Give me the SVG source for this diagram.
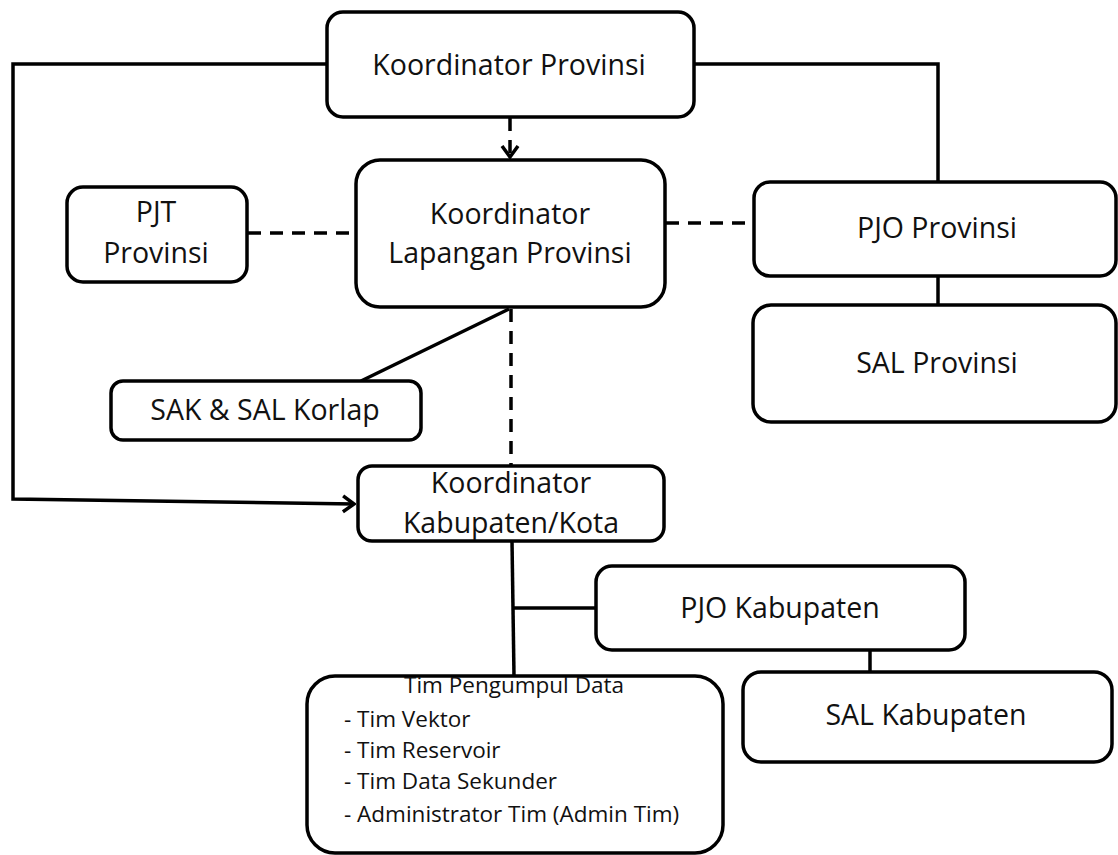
<svg xmlns="http://www.w3.org/2000/svg" width="1118" height="855" viewBox="0 0 1118 855">
<defs>
<style>
.box{fill:#fff;stroke:#000;stroke-width:3.5}
.ln{fill:none;stroke:#000;stroke-width:3.5}
.dash{fill:none;stroke:#000;stroke-width:3.5;stroke-dasharray:13 9}
text{font-family:"Open Sans","Noto Sans",sans-serif;fill:#111;text-anchor:middle}
.t{font-size:28.5px}
.s{font-size:22.5px}
.l{text-anchor:start}
</style>
<marker id="arr" viewBox="0 0 14 20" refX="12" refY="10" markerWidth="14" markerHeight="20" markerUnits="userSpaceOnUse" orient="auto">
<path d="M1,2 L12,10 L1,18" fill="none" stroke="#000" stroke-width="3.5"/>
</marker>
</defs>
<rect width="1118" height="855" fill="#fff"/>
<g id="connectors">
<polyline class="ln" points="327,64 13,64 13,499 354,504" marker-end="url(#arr)"/>
<polyline class="ln" points="694,64 938,64 938,182"/>
<line class="dash" x1="510" y1="118" x2="510" y2="157" marker-end="url(#arr)"/>
<line class="dash" x1="248" y1="233" x2="356" y2="233"/>
<line class="dash" x1="666" y1="223" x2="754" y2="223"/>
<line class="ln" x1="938" y1="276" x2="938" y2="305"/>
<line class="ln" x1="509" y1="309" x2="361" y2="381"/>
<line class="dash" x1="511" y1="309" x2="511" y2="466"/>
<line class="ln" x1="512" y1="541" x2="514" y2="676"/>
<line class="ln" x1="514" y1="608" x2="596" y2="608"/>
<line class="ln" x1="870" y1="650" x2="870" y2="672"/>
</g>
<g id="koordinator-provinsi">
<rect class="box" x="327" y="12" width="367" height="105" rx="16"/>
<text class="t" x="509" y="75">Koordinator Provinsi</text>
</g>
<g id="koordinator-lapangan">
<rect class="box" x="356" y="160" width="309" height="147" rx="24"/>
<text class="t" x="510" y="224">Koordinator</text>
<text class="t" x="510" y="263">Lapangan Provinsi</text>
</g>
<g id="pjt-provinsi">
<rect class="box" x="67" y="187" width="180" height="95" rx="16"/>
<text class="t" x="156" y="222">PJT</text>
<text class="t" x="156" y="263">Provinsi</text>
</g>
<g id="pjo-provinsi">
<rect class="box" x="754" y="182" width="362" height="94" rx="16"/>
<text class="t" x="937" y="238">PJO Provinsi</text>
</g>
<g id="sal-provinsi">
<rect class="box" x="753" y="305" width="363" height="117" rx="18"/>
<text class="t" x="937" y="373">SAL Provinsi</text>
</g>
<g id="sak-sal-korlap">
<rect class="box" x="111" y="381" width="310" height="59" rx="12"/>
<text class="t" x="265" y="420">SAK &amp; SAL Korlap</text>
</g>
<g id="koordinator-kabupaten">
<rect class="box" x="358" y="466" width="306" height="75" rx="14"/>
<text class="t" x="511" y="493">Koordinator</text>
<text class="t" x="511" y="533">Kabupaten/Kota</text>
</g>
<g id="pjo-kabupaten">
<rect class="box" x="596" y="566" width="369" height="84" rx="16"/>
<text class="t" x="780" y="618">PJO Kabupaten</text>
</g>
<g id="sal-kabupaten">
<rect class="box" x="743" y="672" width="369" height="90" rx="18"/>
<text class="t" x="926" y="725">SAL Kabupaten</text>
</g>
<g id="tim-pengumpul-data">
<rect class="box" x="307" y="676" width="416" height="177" rx="28"/>
<text class="s" x="514" y="693">Tim Pengumpul Data</text>
<text class="s l" x="344" y="727">- Tim Vektor</text>
<text class="s l" x="344" y="758">- Tim Reservoir</text>
<text class="s l" x="344" y="789">- Tim Data Sekunder</text>
<text class="s l" x="344" y="822">- Administrator Tim (Admin Tim)</text>
</g>
</svg>
